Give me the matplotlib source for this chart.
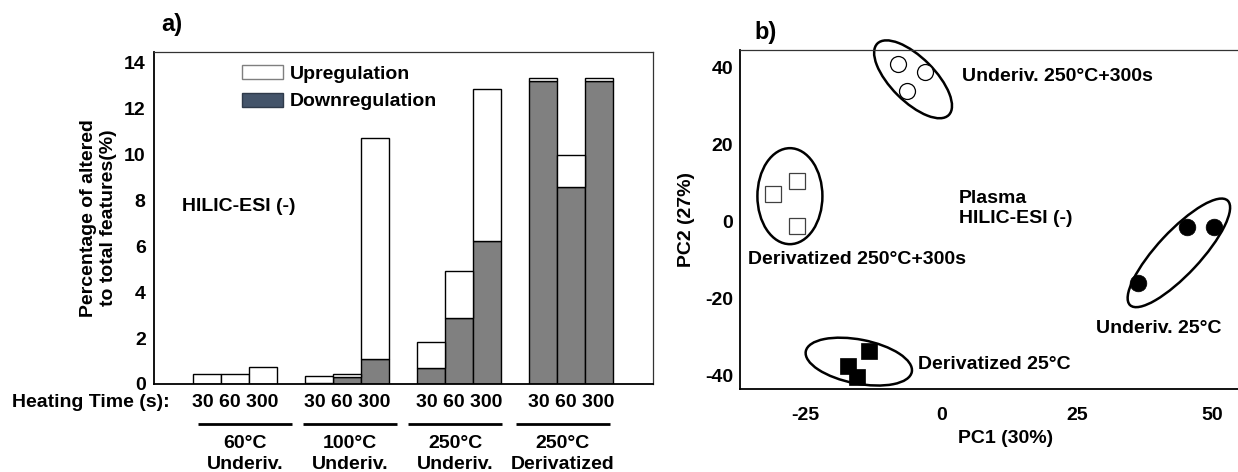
import matplotlib
matplotlib.use('Agg')
import matplotlib.pyplot as plt
import numpy as np
from matplotlib.patches import Patch, Ellipse
from matplotlib.transforms import ScaledTranslation

plt.rcParams['font.family'] = ['Liberation Sans', 'DejaVu Sans']
plt.rcParams['font.weight'] = 'bold'
plt.rcParams['font.size'] = 14
plt.rcParams['axes.unicode_minus'] = False

FS = 14

# ---- panel a) data ----
groups = ['60°C\nUnderiv.', '100°C\nUnderiv.', '250°C\nUnderiv.', '250°C\nDerivatized']
times = ['30', '60', '300']
down = [0.0, 0.0, 0.0, 0.04, 0.29, 1.10, 0.70, 2.89, 6.22, 13.19, 8.57, 13.19]
up = [0.45, 0.42, 0.75, 0.31, 0.13, 9.60, 1.11, 2.05, 6.62, 0.15, 1.40, 0.15]

# ---- panel b) data (PCA scores) ----
underiv_250_x = [-8.0, -3.0, -6.3]
underiv_250_y = [40.8, 38.8, 33.8]
deriv_250_x = [-31.0, -26.6, -26.6]
deriv_250_y = [7.2, 10.5, -1.1]
deriv_25_x = [-13.4, -17.1, -15.6]
deriv_25_y = [-33.5, -37.4, -40.3]
underiv_25_x = [45.3, 50.2, 36.2]
underiv_25_y = [-1.4, -1.4, -15.9]

W, H = 1238, 472
fig = plt.figure(figsize=(W / 100, H / 100), dpi=100)


def fig_box(left, top, right, bottom):
    return [left / W, 1 - bottom / H, (right - left) / W, (bottom - top) / H]


# ================= panel a =================
ax = fig.add_axes(fig_box(154, 52, 653, 384))
pos = np.array([g * 4 + j for g in range(4) for j in range(3)], dtype=float)
ax.bar(pos, down, width=1.0, color='#808080', edgecolor='black', linewidth=1.0)
ax.bar(pos, up, width=1.0, bottom=down, color='white', edgecolor='black', linewidth=1.0)
ax.set_xlim(-1.9, 15.92)
ax.set_ylim(0, 14.46)
ax.set_yticks(range(0, 15, 2))
ax.set_xticks([])
ax.tick_params(axis='y', length=0, pad=6, labelsize=FS)
for s in ['left', 'bottom']:
    ax.spines[s].set_linewidth(1.3)
for s in ['top', 'right']:
    ax.spines[s].set_linewidth(0.9)
    ax.spines[s].set_color('#333333')

ax.set_ylabel('Percentage of altered\nto total features(%)', fontsize=FS, fontweight='bold')
ax.yaxis.set_label_coords(-0.074, 0.5)

handles = [Patch(facecolor='white', edgecolor='#7f7f7f', label='Upregulation'),
           Patch(facecolor='#44546a', edgecolor='#2f3a4a', label='Downregulation')]
ax.legend(handles=handles, loc='upper left', bbox_to_anchor=(0.176, 0.96),
          frameon=False, borderpad=0, borderaxespad=0, handlelength=2.1,
          handleheight=0.72, handletextpad=0.35, labelspacing=0.5, fontsize=FS)

ax.text(0.056, 0.535, 'HILIC-ESI (-)', transform=ax.transAxes, ha='left', va='center',
        fontsize=FS)
ax.text(0.032, -0.057, 'Heating Time (s):', transform=ax.transAxes, ha='right',
        va='center', fontsize=FS, clip_on=False)

xt = ax.get_xaxis_transform()
bracket_x = [1.35, 5.1, 8.85, 12.7]
for g in range(4):
    ax.text(g * 4 + 1, -0.057, ' '.join(times), transform=xt, ha='center', va='center',
            fontsize=FS, clip_on=False)
    ax.plot([bracket_x[g] - 1.68, bracket_x[g] + 1.68], [-0.12, -0.12], transform=xt,
            color='black', lw=2.0, clip_on=False, solid_capstyle='butt')
    ax.text(bracket_x[g], -0.212, groups[g], transform=xt, ha='center', va='center',
            fontsize=FS, linespacing=1.3, clip_on=False)

fig.text(171.5 / W, 1 - 24 / H, 'a)', ha='center', va='center', fontsize=17)

# ================= panel b =================
bx = fig.add_axes(fig_box(740, 50, W, 389))
bx.set_xlim(-37.1, 54.7)
bx.set_ylim(-43.4, 44.5)
bx.set_xticks([-25, 0, 25, 50])
bx.set_yticks([-40, -20, 0, 20, 40])
bx.tick_params(axis='x', length=0, pad=13, labelsize=FS)
bx.tick_params(axis='y', length=0, pad=5, labelsize=FS)
bx.spines['right'].set_visible(False)
for s in ['left', 'bottom']:
    bx.spines[s].set_linewidth(1.3)
bx.spines['top'].set_linewidth(0.9)
bx.spines['top'].set_color('#333333')

bx.plot(underiv_250_x, underiv_250_y, 'o', ms=11.5, mfc='white', mec='black', mew=0.9)
bx.plot(deriv_250_x, deriv_250_y, 's', ms=12, mfc='white', mec='#404040', mew=0.9)
bx.plot(deriv_25_x, deriv_25_y, 's', ms=12, mfc='black', mec='black', mew=0.5)
bx.plot(underiv_25_x, underiv_25_y, 'o', ms=12, mfc='black', mec='black', mew=0.5)

# group ellipses: centre in data units, size in pixels
ellipses = [((-5.2, 36.9), 101, 44, -45),
            ((-27.9, 6.6), 65, 96, 0),
            ((-15.2, -36.3), 108, 44, -11),
            ((43.8, -8.1), 143, 43, 47)]
for (cx, cy), w, h, a in ellipses:
    tr = fig.dpi_scale_trans + ScaledTranslation(cx, cy, bx.transData)
    bx.add_patch(Ellipse((0, 0), w / 100, h / 100, angle=a, transform=tr,
                         fill=False, edgecolor='black', lw=1.8, clip_on=False))

bx.text(3.8, 37.5, 'Underiv. 250°C+300s', ha='left', va='center', fontsize=FS)
bx.text(3.2, 3.4, 'Plasma\nHILIC-ESI (-)', ha='left', va='center', fontsize=FS,
        linespacing=1.2)
bx.text(-35.6, -9.9, 'Derivatized 250°C+300s', ha='left', va='center', fontsize=FS)
bx.text(-4.3, -37.1, 'Derivatized 25°C', ha='left', va='center', fontsize=FS)
bx.text(51.7, -27.6, 'Underiv. 25°C', ha='right', va='center', fontsize=FS)

bx.text(0.534, -0.145, 'PC1 (30%)', transform=bx.transAxes, ha='center', va='center',
        fontsize=FS, clip_on=False)
bx.text(-0.108, 0.5, 'PC2 (27%)', transform=bx.transAxes, ha='center', va='center',
        rotation=90, fontsize=FS, clip_on=False)

fig.text(766 / W, 1 - 33 / H, 'b)', ha='center', va='center', fontsize=17)

fig.savefig('out.png', dpi=100)
